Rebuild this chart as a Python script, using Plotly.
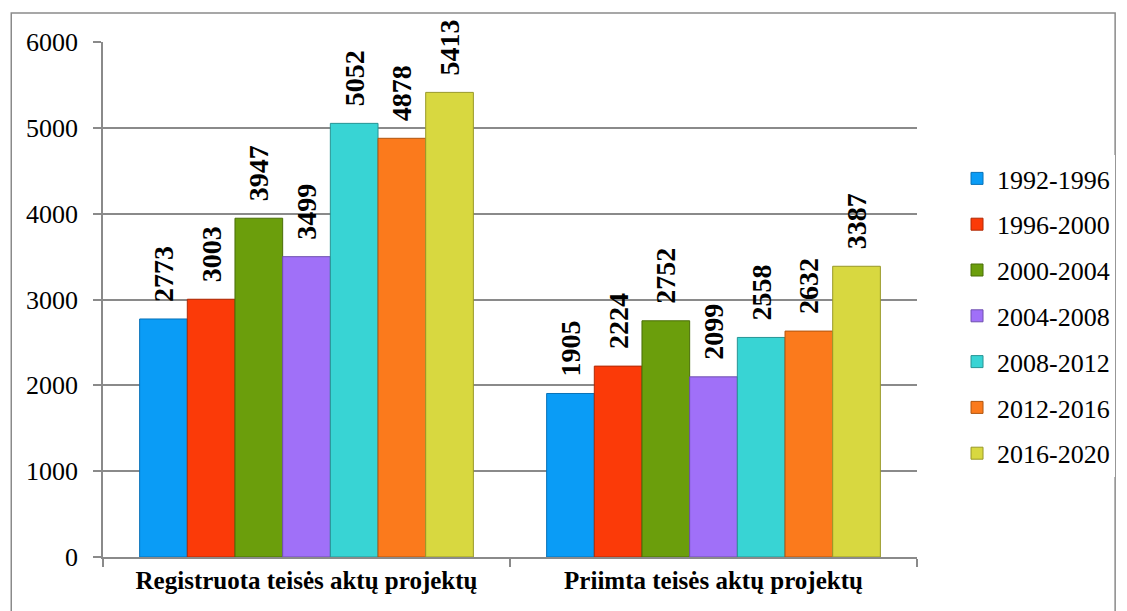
import plotly.graph_objects as go

categories = ["Registruota teisės aktų projektų", "Priimta teisės aktų projektų"]
periods = ["1992-1996", "1996-2000", "2000-2004", "2004-2008", "2008-2012", "2012-2016", "2016-2020"]
registered = [2773, 3003, 3947, 3499, 5052, 4878, 5413]
adopted = [1905, 2224, 2752, 2099, 2558, 2632, 3387]
colors = ["#0a9cf6", "#fb3a08", "#6b9e0c", "#a070f8", "#38d4d4", "#fb7a1c", "#d8d840"]
edge_colors = ["#0872b8", "#b02a06", "#4a6e08", "#7050b0", "#279494", "#b0550f", "#989828"]

FAM = "Times New Roman, Liberation Serif, Tinos, serif"
PAD = "\u00a0\u00a0"  # small gap between bar top and rotated label (text reads upward)

fig = go.Figure()
for i, p in enumerate(periods):
    vals = [registered[i], adopted[i]]
    fig.add_trace(go.Bar(
        name=p, x=categories, y=vals,
        marker=dict(color=colors[i], line=dict(color=edge_colors[i], width=1)),
        text=[f"{PAD}{v}" for v in vals], textposition="outside", textangle=-90,
        constraintext="none",
        textfont=dict(family=FAM, size=28, color="black", weight="bold"),
        cliponaxis=False, legendgroup=p,
    ))

# page body has an 8px offset; coordinates below are relative to the figure
OFF = 8
W, H = 1127 - OFF, 611 - OFF
L, T = 103 - OFF, 42 - OFF
PR, PB = 937 - OFF, 557 - OFF
R, B = W - PR, H - PB
pw, ph = W - L - R, H - T - B

def px(x):
    return (x - OFF - L) / pw

def py(y):
    return (H - B - (y - OFF)) / ph

fig.update_layout(
    width=W, height=H,
    margin=dict(l=L, r=R, t=T, b=B),
    paper_bgcolor="white", plot_bgcolor="white",
    barmode="group", bargap=0.18, bargroupgap=0,
    font=dict(family=FAM, size=26, color="black"),
    legend=dict(x=px(978), y=py(155), xanchor="left", yanchor="top",
                font=dict(family=FAM, size=26, color="black"), tracegroupgap=9, itemwidth=30),
    showlegend=True,
    shapes=[dict(type="rect", xref="paper", yref="paper",
                 x0=px(9), x1=px(1140), y0=py(625), y1=py(13),
                 line=dict(color="#8a8a8a", width=1.5), fillcolor="rgba(0,0,0,0)")],
)
fig.update_yaxes(range=[0, 6000], dtick=1000, showgrid=True, gridcolor="#8a8a8a", gridwidth=1.5,
                 showline=True, linecolor="#8a8a8a", linewidth=1.5,
                 ticks="outside", ticklen=8, tickcolor="#8a8a8a", tickwidth=1.5,
                 ticklabelstandoff=10,
                 tickfont=dict(family=FAM, size=26, color="black"), zeroline=False)
fig.update_xaxes(showline=True, linecolor="#8a8a8a", linewidth=1.5,
                 ticks="outside", tickson="boundaries", ticklen=8, tickcolor="#8a8a8a", tickwidth=1.5,
                 tickfont=dict(family=FAM, size=25, weight="bold", color="black"))

fig.write_html("out.html")
